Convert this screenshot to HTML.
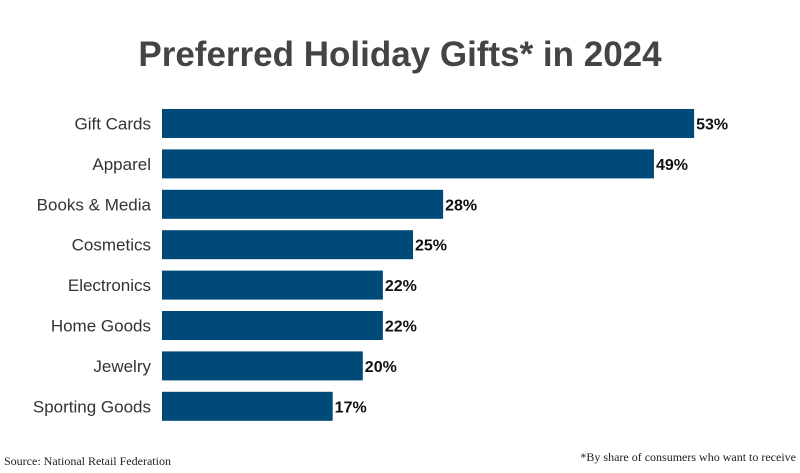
<!DOCTYPE html>
<html><head><meta charset="utf-8"><style>
body{margin:0;background:#fff;}
svg{display:block;font-family:"Liberation Sans",Arial,sans-serif;}
</style></head><body>
<svg id="chart" width="800" height="473" viewBox="0 0 800 473">
<text x="400" y="66" text-anchor="middle" font-size="35" font-weight="bold" fill="#444">Preferred Holiday Gifts* in 2024</text>
<g id="bars"></g>
<text x="4" y="465" font-size="12" fill="#222" font-family="Liberation Serif,serif">Source: National Retail Federation</text>
<text x="796" y="461" text-anchor="end" font-size="12" fill="#222" font-family="Liberation Serif,serif">*By share of consumers who want to receive</text>
</svg>
<script>
const categories=["Gift Cards","Apparel","Books & Media","Cosmetics","Electronics","Home Goods","Jewelry","Sporting Goods"];
const values=[53,49,28,25,22,22,20,17];
const x0=162,pxPer=10.04,top0=109,pitch=40.4,bh=29;
const xs=v=>x0+v*pxPer;
const ys=i=>top0+i*pitch;
const g=document.getElementById('bars');
const ns='http://www.w3.org/2000/svg';
categories.forEach((c,i)=>{
 const r=document.createElementNS(ns,'rect');
 r.setAttribute('x',x0);r.setAttribute('y',ys(i));
 r.setAttribute('width',xs(values[i])-x0);r.setAttribute('height',bh);
 r.setAttribute('fill','#004a7a');
 
 
 g.appendChild(r);
 const l=document.createElementNS(ns,'text');
 l.setAttribute('x',151);l.setAttribute('y',ys(i)+bh/2+6);
 l.setAttribute('text-anchor','end');l.setAttribute('font-size','17');l.setAttribute('fill','#333');
 l.textContent=c;
 
 
 g.appendChild(l);
 const v=document.createElementNS(ns,'text');
 v.setAttribute('x',xs(values[i])+2);v.setAttribute('y',ys(i)+bh/2+6);
 v.setAttribute('font-size','16');v.setAttribute('font-weight','bold');v.setAttribute('fill','#111');
 v.textContent=values[i]+'%';
 
 
 g.appendChild(v);
});
</script>
</body></html>
